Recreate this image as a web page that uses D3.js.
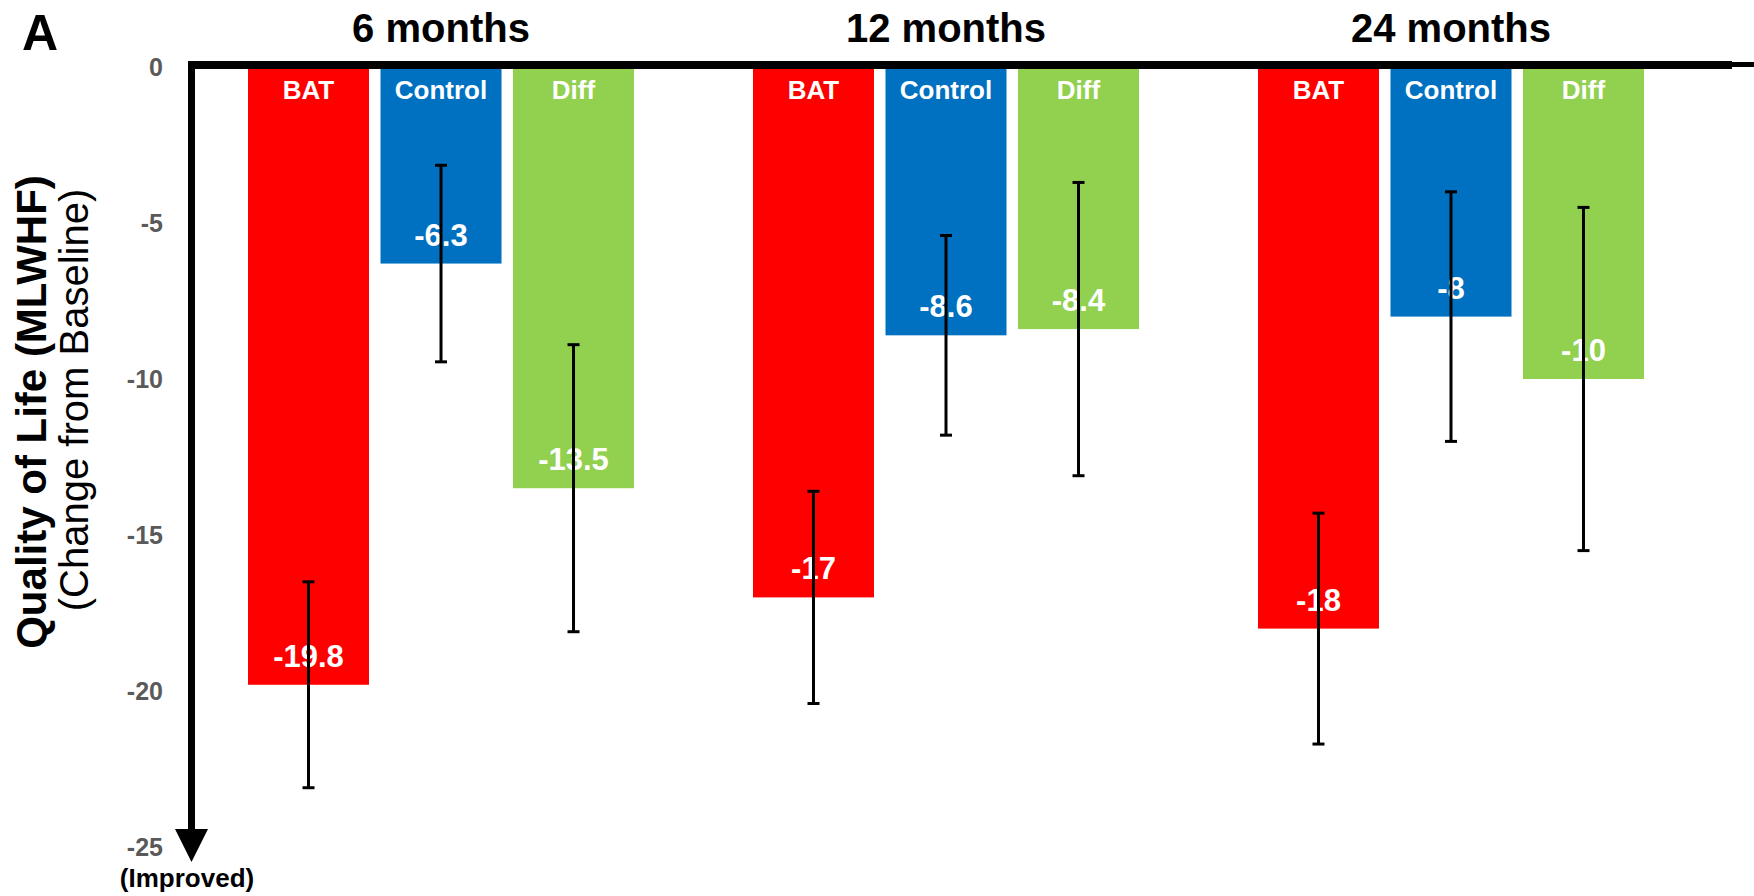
<!DOCTYPE html>
<html>
<head>
<meta charset="utf-8">
<script src="https://cdn.jsdelivr.net/npm/d3@7"></script>
<style>
  html, body { margin: 0; padding: 0; background: #fff; }
  svg { display: block; font-family: "Liberation Sans", Arial, Helvetica, sans-serif; }
</style>
</head>
<body>
<svg id="chart" width="1754" height="896"></svg>
<script>
// ---- data ----
const periods = ["6 months", "12 months", "24 months"];
const series = ["BAT", "Control", "Diff"];
const batValues = [-19.8, -17, -18];
const controlValues = [-6.3, -8.6, -8];
const diffValues = [-13.5, -8.4, -10];
const valueLabels = [["-19.8", "-6.3", "-13.5"], ["-17", "-8.6", "-8.4"], ["-18", "-8", "-10"]];
// error bar ends [upper, lower]
const batErr = [[-16.5, -23.1], [-13.6, -20.4], [-14.3, -21.7]];
const controlErr = [[-3.15, -9.45], [-5.4, -11.8], [-4.0, -12.0]];
const diffErr = [[-8.9, -18.1], [-3.7, -13.1], [-4.5, -15.5]];
const yTicks = [0, -5, -10, -15, -20, -25];
const yTickLabels = ["0", "-5", "-10", "-15", "-20", "-25"];
const colors = { BAT: "#ff0000", Control: "#0070c0", Diff: "#92d050" };

const valuesBySeries = { BAT: batValues, Control: controlValues, Diff: diffValues };
const errBySeries = { BAT: batErr, Control: controlErr, Diff: diffErr };

const rows = [];
periods.forEach((p, i) => {
  series.forEach((s, j) => {
    rows.push({ period: p, series: s, value: valuesBySeries[s][i],
      hi: errBySeries[s][i][0], lo: errBySeries[s][i][1], label: valueLabels[i][j] });
  });
});

const svg = d3.select("#chart");

const y = d3.scaleLinear().domain([0, -25]).range([67, 847]);
const x0 = d3.scaleBand().domain(periods).range([248, 1644]).paddingInner(0.2356).paddingOuter(0);
const x1 = d3.scaleBand().domain(series).range([0, x0.bandwidth()]).paddingInner(0.0868).paddingOuter(0);

// bars
const g = svg.append("g");
g.selectAll("rect.bar").data(rows).enter().append("rect")
  .attr("class", "bar")
  .attr("x", d => x0(d.period) + x1(d.series))
  .attr("y", y(0))
  .attr("width", x1.bandwidth())
  .attr("height", d => y(d.value) - y(0))
  .attr("fill", d => colors[d.series]);

// series names inside bars
g.selectAll("text.sname").data(rows).enter().append("text")
  .attr("class", "sname")
  .attr("x", d => x0(d.period) + x1(d.series) + x1.bandwidth() / 2)
  .attr("y", 99)
  .attr("text-anchor", "middle")
  .attr("fill", "#fff")
  .attr("font-weight", "bold")
  .attr("font-size", 26)
  .text(d => d.series);

// value labels
g.selectAll("text.val").data(rows).enter().append("text")
  .attr("class", "val")
  .attr("x", d => x0(d.period) + x1(d.series) + x1.bandwidth() / 2)
  .attr("y", d => y(d.value) - 18)
  .attr("text-anchor", "middle")
  .attr("fill", "#fff")
  .attr("font-weight", "bold")
  .attr("font-size", 31)
  .text(d => d.label);

// error bars
const eb = g.selectAll("g.err").data(rows).enter().append("g").attr("class", "err")
  .attr("transform", d => `translate(${x0(d.period) + x1(d.series) + x1.bandwidth() / 2},0)`);
eb.append("line").attr("x1", 0).attr("x2", 0)
  .attr("y1", d => y(d.hi)).attr("y2", d => y(d.lo))
  .attr("stroke", "#000").attr("stroke-width", 3);
eb.append("line").attr("x1", -6).attr("x2", 6)
  .attr("y1", d => y(d.hi)).attr("y2", d => y(d.hi))
  .attr("stroke", "#000").attr("stroke-width", 3);
eb.append("line").attr("x1", -6).attr("x2", 6)
  .attr("y1", d => y(d.lo)).attr("y2", d => y(d.lo))
  .attr("stroke", "#000").attr("stroke-width", 3);

// y axis tick labels
const axis = svg.append("g").attr("transform", "translate(163,0)")
  .call(d3.axisLeft(y).tickValues(yTicks).tickSize(0).tickPadding(0)
    .tickFormat((d, i) => yTickLabels[i]));
axis.select(".domain").remove();
axis.selectAll("text")
  .attr("font-family", "Liberation Sans, Arial, sans-serif")
  .attr("font-weight", "bold")
  .attr("font-size", 25)
  .attr("fill", "#5a5a5a");

// top axis line
svg.append("line").attr("x1", 188).attr("x2", 1732).attr("y1", 65).attr("y2", 65)
  .attr("stroke", "#000").attr("stroke-width", 8);
svg.append("line").attr("x1", 1730).attr("x2", 1754).attr("y1", 64.5).attr("y2", 64.5)
  .attr("stroke", "#000").attr("stroke-width", 5);

// vertical axis with arrow
svg.append("line").attr("x1", 191.5).attr("x2", 191.5).attr("y1", 61).attr("y2", 832)
  .attr("stroke", "#000").attr("stroke-width", 7);
svg.append("path").attr("d", "M175,829 L208,829 L191.5,862 Z").attr("fill", "#000");

// period titles
svg.selectAll("text.period").data(periods).enter().append("text")
  .attr("class", "period")
  .attr("x", d => x0(d) + x0.bandwidth() / 2)
  .attr("y", 42)
  .attr("text-anchor", "middle")
  .attr("font-weight", "bold")
  .attr("font-size", 40)
  .attr("fill", "#000")
  .text(d => d);

// panel letter
svg.append("text").attr("x", 22).attr("y", 50)
  .attr("font-weight", "bold").attr("font-size", 50).attr("fill", "#000").text("A");

// y axis titles
svg.append("text")
  .attr("transform", "translate(46,412) rotate(-90)")
  .attr("text-anchor", "middle")
  .attr("font-weight", "bold").attr("font-size", 42).attr("fill", "#000")
  .text("Quality of Life (MLWHF)");
svg.append("text")
  .attr("transform", "translate(88,400) rotate(-90)")
  .attr("text-anchor", "middle")
  .attr("font-size", 40).attr("fill", "#000")
  .text("(Change from Baseline)");

// improved label
svg.append("text").attr("x", 187).attr("y", 887)
  .attr("text-anchor", "middle")
  .attr("font-weight", "bold").attr("font-size", 26).attr("fill", "#000")
  .text("(Improved)");
</script>
</body>
</html>
